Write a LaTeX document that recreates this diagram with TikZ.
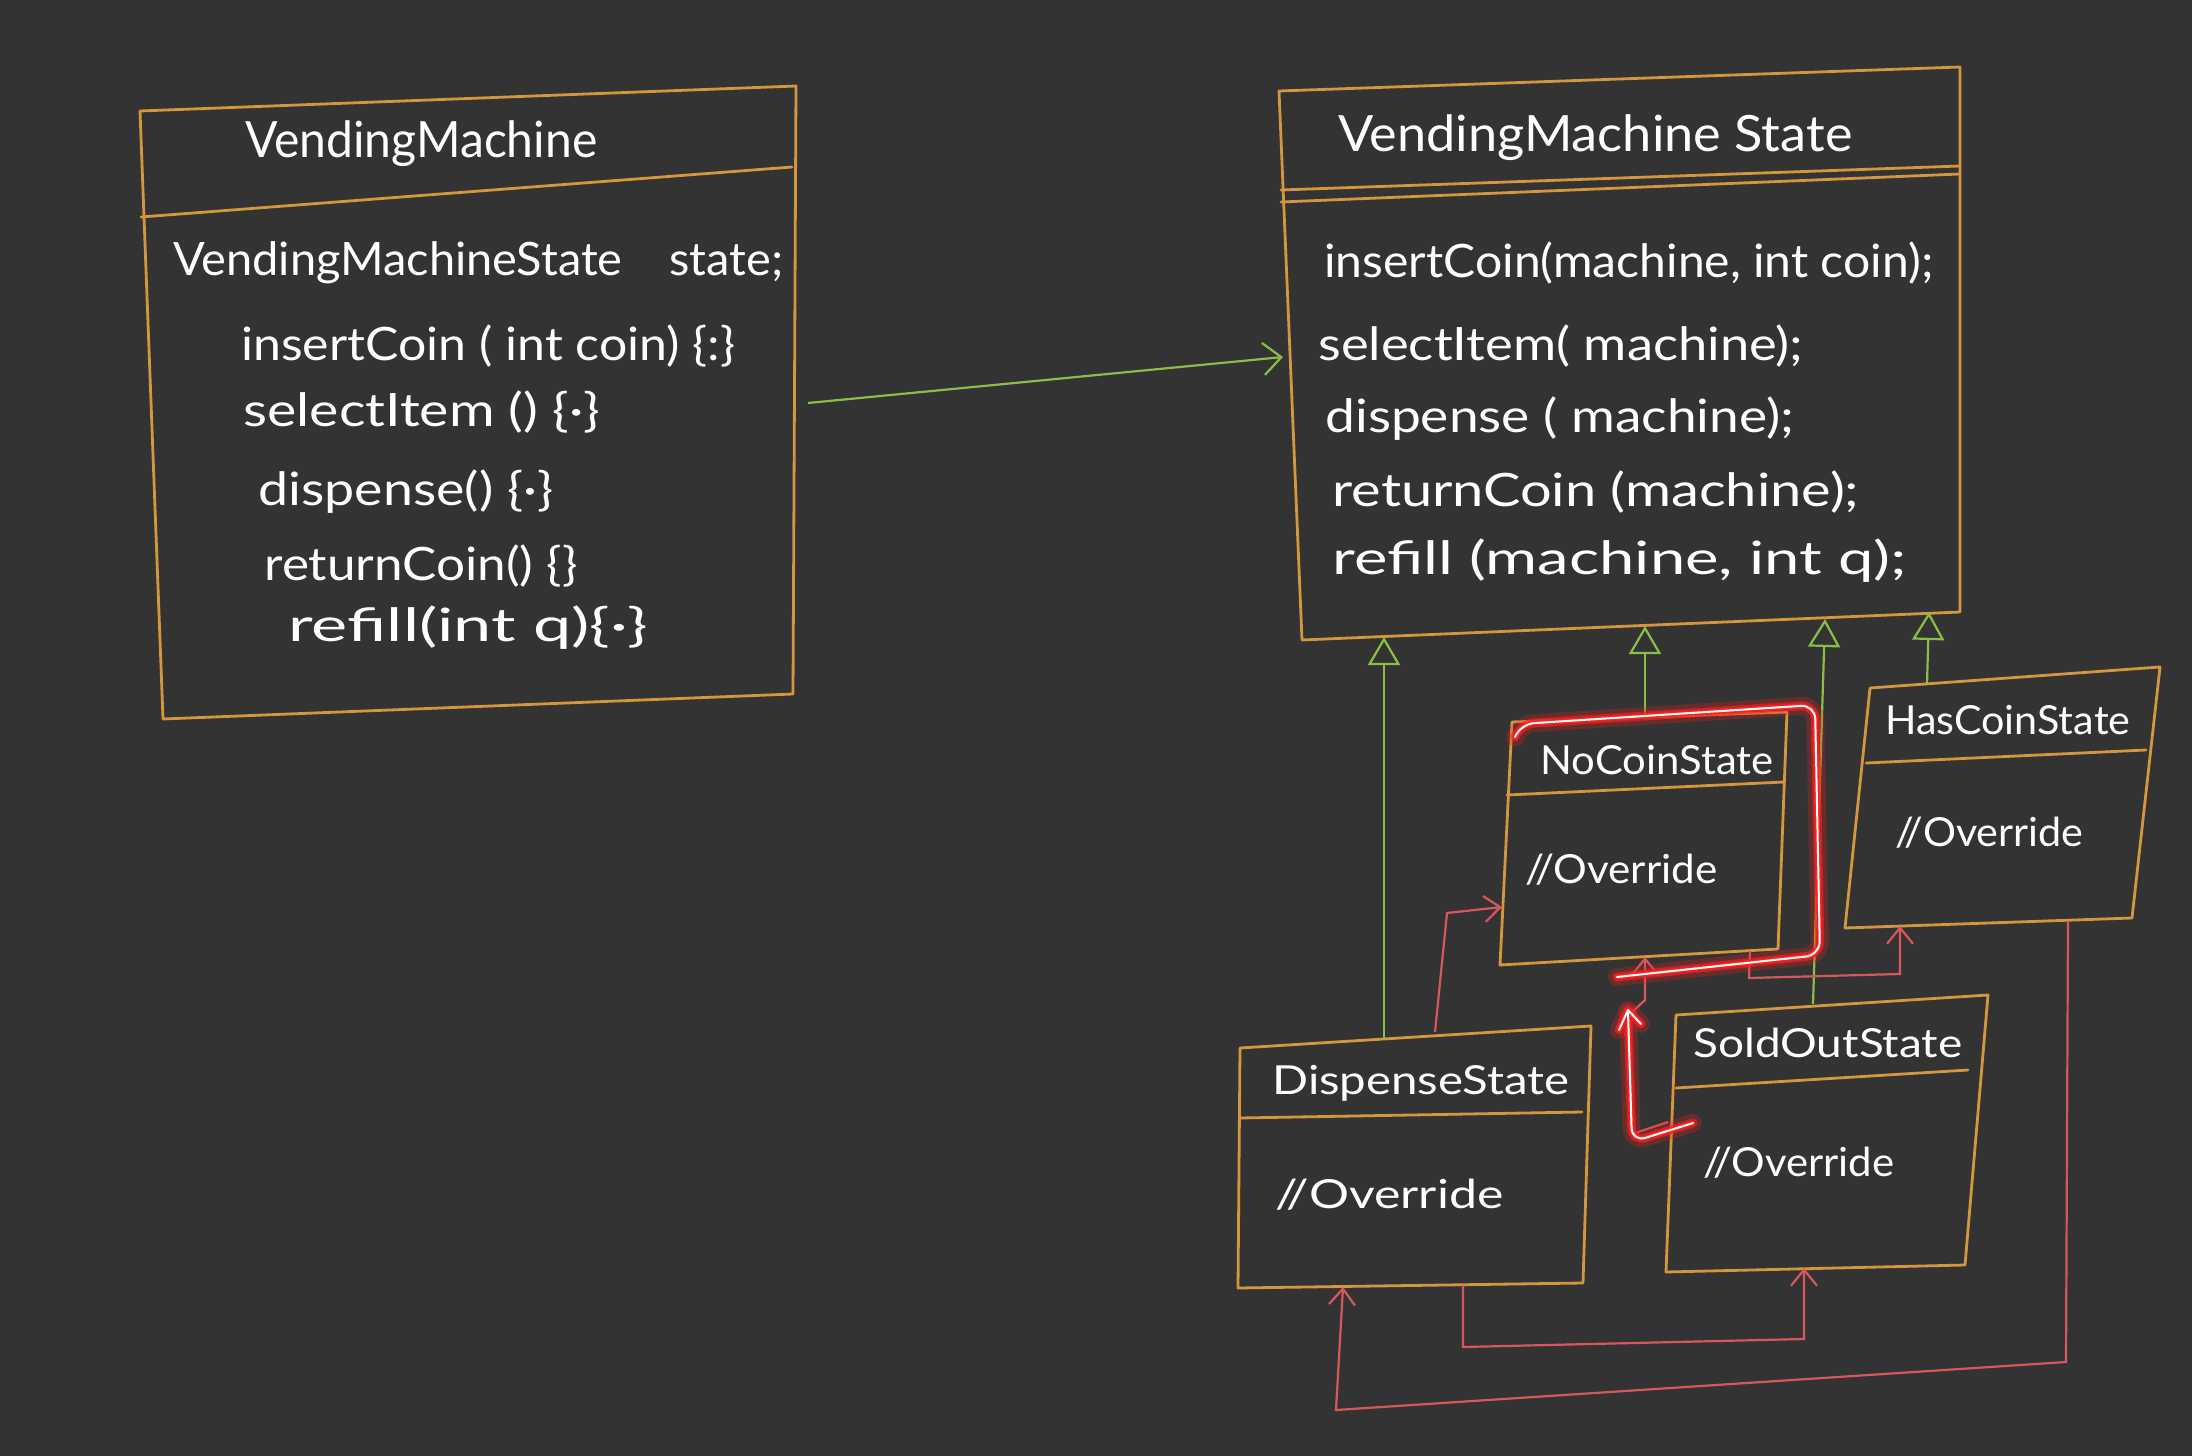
\documentclass[tikz,border=0pt]{standalone}
\usepackage{fontspec}
\setmainfont{Lato}
\usetikzlibrary{arrows.meta}
\definecolor{bg}{RGB}{51,51,51}
\definecolor{boxc}{RGB}{212,150,62}
\definecolor{grn}{RGB}{139,190,70}
\definecolor{rdl}{RGB}{214,88,92}
\definecolor{glow}{RGB}{255,30,30}
\newcommand{\fw}[2]{\resizebox{#1pt}{\height}{#2}}
\tikzset{
  boxline/.style={draw=boxc, line width=1.4pt, line join=round, line cap=round},
  gen/.style={draw=grn, line width=1.1pt, -{Triangle[open,length=14pt,width=16pt]}},
  assoc/.style={draw=grn, line width=1.1pt, -{Straight Barb[length=9pt,width=16pt]}},
  trans/.style={draw=rdl, line width=1.1pt, -{Straight Barb[length=8pt,width=13pt]}},
  lbl/.style={text=white, inner sep=0pt, anchor=west},
  ttl/.style={lbl, font=\fontsize{25}{29}\selectfont},
  bdy/.style={lbl, font=\fontsize{23}{27}\selectfont},
  sml/.style={lbl, font=\fontsize{20}{24}\selectfont},
  hl/.style={line cap=round, line join=round, rounded corners=7pt},
}
\begin{document}
\begin{tikzpicture}[x=0.5pt,y=-0.5pt]
\fill[bg] (0,0) rectangle (2192,1456);
\useasboundingbox (0,0) rectangle (2192,1456);

% ---------- VendingMachine ----------
\coordinate (vmTL) at (140,111);
\coordinate (vmTR) at (796,86);
\coordinate (vmBR) at (793,694);
\coordinate (vmBL) at (163,719);
\coordinate (vmSL) at (141,217);
\coordinate (vmSR) at (792,167);
\draw[boxline] (vmTL) -- (vmTR) -- (vmBR) -- (vmBL) -- cycle;
\draw[boxline] (vmSL) -- (vmSR);
\node[ttl] (vmT) at (245,144) {\fw{176}{VendingMachine}};
\node[bdy] (vm1) at (173,263) {\fw{305}{VendingMachineState\quad state;}};
\node[bdy] (vm2) at (241,346) {\fw{247}{insertCoin ( int coin) \{:\}}};
\node[bdy] (vm3) at (243,412) {\fw{178.5}{selectItem () \{·\}}};
\node[bdy] (vm4) at (258,492) {\fw{147.5}{dispense() \{·\}}};
\node[bdy] (vm5) at (264,566) {\fw{156.5}{returnCoin() \{\}}};
\node[bdy] (vm6) at (288,628) {\fw{180}{refill(int q)\{·\}}};

% ---------- VendingMachineState ----------
\coordinate (vsTL) at (1279,91);
\coordinate (vsTR) at (1960,67);
\coordinate (vsBR) at (1960,612);
\coordinate (vsBL) at (1302,640);
\draw[boxline] (vsTL) -- (vsTR) -- (vsBR) -- (vsBL) -- cycle;
\draw[boxline] (1281,190) -- (1960,166);
\draw[boxline] (1281,202) -- (1960,174);
\node[ttl] (vsT) at (1338,138) {\fw{257}{VendingMachine State}};
\node[bdy] (vs1) at (1324,263) {\fw{304.5}{insertCoin(machine, int coin);}};
\node[bdy] (vs2) at (1318,346) {\fw{242.5}{selectItem( machine);}};
\node[bdy] (vs3) at (1325,419) {\fw{234.5}{dispense ( machine);}};
\node[bdy] (vs4) at (1332,492) {\fw{263.5}{returnCoin (machine);}};
\node[bdy] (vs5) at (1332,561) {\fw{287}{refill (machine, int q);}};

% ---------- NoCoinState ----------
\coordinate (ncTL) at (1512,722);
\coordinate (ncTR) at (1787,712);
\coordinate (ncBR) at (1778,949);
\coordinate (ncBL) at (1500,965);
\draw[boxline] (ncTL) -- (ncTR) -- (ncBR) -- (ncBL) -- cycle;
\draw[boxline] (1507,795) -- (1784,782);
\node[sml] (ncT) at (1540,760) {\fw{116.5}{NoCoinState}};
\node[sml] (ncO) at (1525,870) {\fw{96}{//Override}};

% ---------- HasCoinState ----------
\coordinate (hcTL) at (1870,688);
\coordinate (hcTR) at (2160,667);
\coordinate (hcBR) at (2132,918);
\coordinate (hcBL) at (1845,928);
\draw[boxline] (hcTL) -- (hcTR) -- (hcBR) -- (hcBL) -- cycle;
\draw[boxline] (1866,763) -- (2146,750);
\node[sml] (hcT) at (1885,720) {\fw{122.5}{HasCoinState}};
\node[sml] (hcO) at (1895,833) {\fw{94}{//Override}};

% ---------- DispenseState ----------
\coordinate (dsTL) at (1240,1048);
\coordinate (dsTR) at (1591,1026);
\coordinate (dsBR) at (1583,1283);
\coordinate (dsBL) at (1238,1288);
\draw[boxline] (dsTL) -- (dsTR) -- (dsBR) -- (dsBL) -- cycle;
\draw[boxline] (1240,1118) -- (1582,1112);
\node[sml] (dsT) at (1272,1083) {\fw{148.5}{DispenseState}};
\node[sml] (dsO) at (1275,1195) {\fw{114}{//Override}};

% ---------- SoldOutState ----------
\coordinate (soTL) at (1676,1015);
\coordinate (soTR) at (1988,995);
\coordinate (soBR) at (1965,1265);
\coordinate (soBL) at (1666,1272);
\draw[boxline] (soTL) -- (soTR) -- (soBR) -- (soBL) -- cycle;
\draw[boxline] (1676,1088) -- (1968,1070);
\node[sml] (soT) at (1693,1043) {\fw{134.5}{SoldOutState}};
\node[sml] (soO) at (1703,1163) {\fw{95.5}{//Override}};

% ---------- association ----------
\coordinate (vmE) at (808,403);
\coordinate (vsW) at (1283,357);
\draw[assoc] (vmE) -- (vsW);

% ---------- generalisation ----------
\coordinate (dsUp) at (1384,1040);
\coordinate (vsG1) at (1384,637);
\coordinate (ncUp) at (1645,718);
\coordinate (vsG2) at (1645,626);
\coordinate (soUp) at (1813,1004);
\coordinate (vsG3) at (1825,619);
\coordinate (hcUp) at (1927,684);
\coordinate (vsG4) at (1929,612);
\draw[gen] (dsUp) -- (vsG1);
\draw[gen] (ncUp) -- (vsG2);
\draw[gen] (soUp) -- (vsG3);
\draw[gen] (hcUp) -- (vsG4);

% ---------- transitions ----------
\coordinate (dsN) at (1435,1032);
\coordinate (ncW) at (1502,907);
\draw[trans] (dsN) -- (1447,913) -- (ncW);

\coordinate (soW) at (1668,1122);
\coordinate (ncS) at (1645,957);
\draw[trans] (soW) -- (1632,1134) -- (1630,1014) -- (1645,1000) -- (ncS);

\coordinate (ncS2) at (1750,951);
\coordinate (hcS) at (1900,926);
\draw[trans] (ncS2) -- (1749,978) -- (1900,974) -- (hcS);

\coordinate (dsS) at (1463,1285);
\coordinate (soS) at (1804,1268);
\draw[trans] (dsS) -- (1463,1347) -- (1804,1339) -- (soS);

\coordinate (hcS2) at (2068,921);
\coordinate (dsS2) at (1343,1287);
\draw[trans] (hcS2) -- (2066,1362) -- (1336,1410) -- (dsS2);

% ---------- highlight strokes ----------
\foreach \w/\c/\o in {9pt/glow/0.25, 4.5pt/glow/0.6, 2.6pt/glow/1, 1pt/white/1}{
  \draw[hl, draw=\c, line width=\w, opacity=\o]
    (1515,737) -- (1520,724) -- (1815,705) -- (1820,955) -- (1617,977);
  \draw[hl, draw=\c, line width=\w, opacity=\o]
    (1693,1123) -- (1632,1142) -- (1628,1012);
  \draw[draw=\c, line width=\w, opacity=\o, line cap=round, line join=round]
    (1619,1030) -- (1628,1010) -- (1641,1024);
}

% ---------- dark shape, lower right ----------
\fill[black!80] (2192,1320) .. controls (2172,1350) and (2160,1410) .. (2158,1456) -- (2192,1456) -- cycle;
\end{tikzpicture}
\end{document}
